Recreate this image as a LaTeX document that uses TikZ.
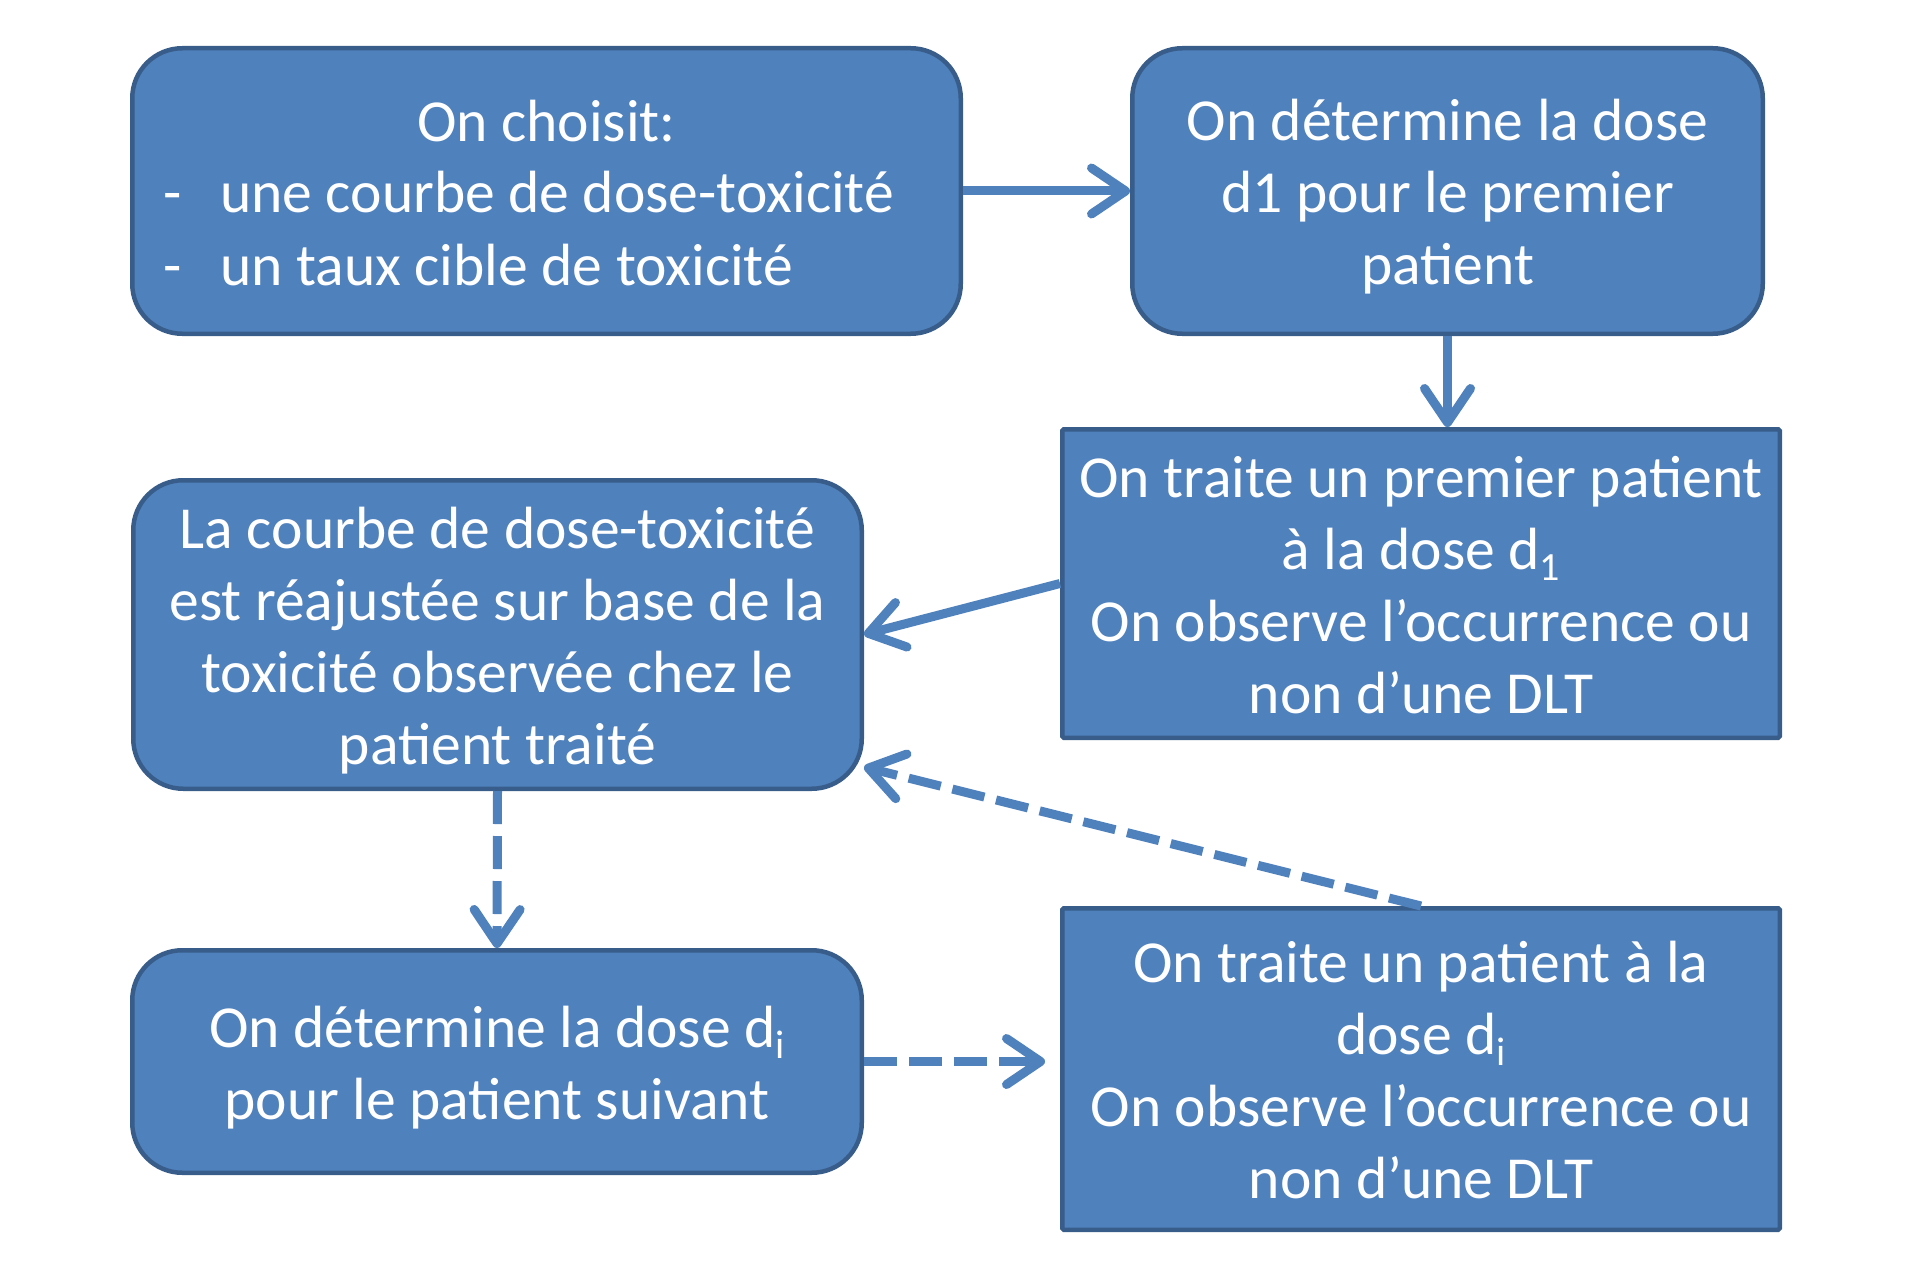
\documentclass[tikz,border=0pt]{standalone}
\usepackage{fontspec}
\setmainfont{Carlito}
\usetikzlibrary{arrows.meta,calc}
\definecolor{boxfill}{HTML}{4F81BD}
\definecolor{boxline}{HTML}{385D8A}
\newcommand\dsub[1]{\raisebox{-11pt}{\fontsize{40}{40}\selectfont #1}}
\newcommand\topstr{\rule{0pt}{63.5pt}}
\newcommand\botstr{\rule[-20pt]{0pt}{0pt}}
\begin{document}
\begin{tikzpicture}[x=1pt,y=-1pt,
  rbox/.style={draw=boxline, fill=boxfill, line width=4.5pt, rounded corners=50pt,
    text=white, font=\fontsize{59.6}{72}\selectfont, align=center, inner sep=0pt},
  sbox/.style={rbox, rounded corners=1.5pt},
  txt/.style={text=white, font=\fontsize{59.6}{72}\selectfont, inner sep=0pt},
  conn/.style={draw=boxfill, line width=9pt, -{Straight Barb[length=34pt,width=46pt,round]}},
  dconn/.style={conn, dash pattern=on 33pt off 12pt}]
\useasboundingbox (0,0) rectangle (1910,1260);

% boxes
\node[rbox, minimum width=828.5pt, minimum height=285.5pt] (box1) at (546.5,191) {};
\node[rbox, minimum width=630.5pt, minimum height=285.5pt] (box2) at (1447.5,191)
  {\topstr On détermine la dose\\d1 pour le premier\\patient\botstr};
\node[sbox, minimum width=717.5pt, minimum height=308.5pt] (box3) at (1421,583.5)
  {\topstr On traite un premier patient\\à la dose d\dsub{1}\\On observe l’occurrence ou\\non d’une DLT\botstr};
\node[rbox, minimum width=728.5pt, minimum height=308.5pt] (box4) at (497.5,634.5)
  {\topstr La courbe de dose-toxicité\\est réajustée sur base de la\\toxicité observée chez le\\patient traité\botstr};
\node[rbox, minimum width=729.5pt, minimum height=222.5pt] (box5) at (497,1061.5)
  {\topstr On détermine la dose d\dsub{i}\\pour le patient suivant\botstr};
\node[sbox, minimum width=717.5pt, minimum height=321.5pt] (box6) at (1421,1069)
  {\topstr On traite un patient à la\\dose d\dsub{i}\\On observe l’occurrence ou\\non d’une DLT\botstr};

% text of box 1
\node[txt, anchor=base] (t1) at (546.5,142) {On choisit:};
\node[txt, anchor=base west] (t2) at (163,212) {-};
\node[txt, anchor=base west] (t3) at (220,212) {une courbe de dose-toxicité};
\node[txt, anchor=base west] (t4) at (163,285) {-};
\node[txt, anchor=base west] (t5) at (220,285) {un taux cible de toxicité};

% connector end points
\coordinate (b4in) at ($(box4.east)+(0,132.5)$);
\coordinate (a6end) at (1045,1061.5);

% connectors
\draw[conn] (box1.east) -- (box2.west);
\draw[conn] (box2.south) -- (box2.south |- box3.north);
\draw[conn] (box3.west) -- (box4.east);
\draw[dconn] (box6.north) -- (b4in);
\draw[dconn] (box4.south) -- (box5.north);
\draw[dconn] (box5.east) -- (a6end);
\end{tikzpicture}
\end{document}
